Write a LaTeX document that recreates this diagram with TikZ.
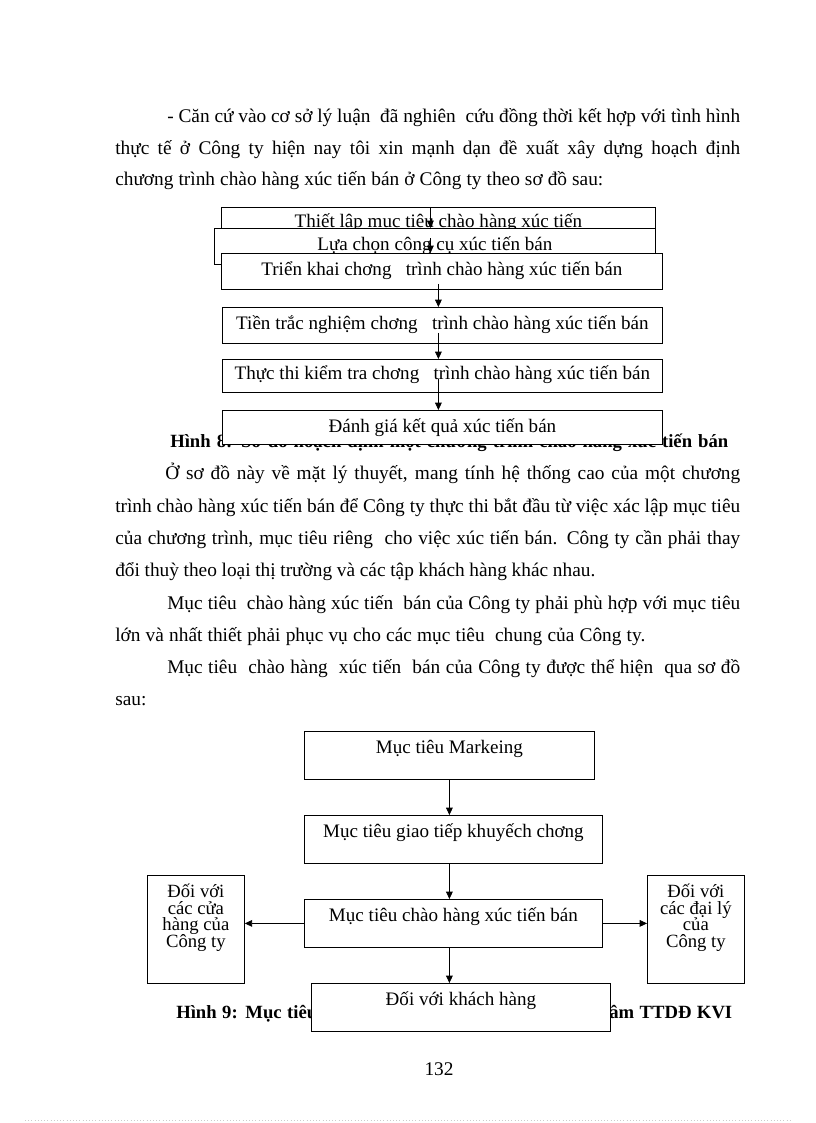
\documentclass[tikz,border=0pt]{standalone}
\usepackage{fontspec}
\setmainfont{Liberation Serif}
\usetikzlibrary{arrows.meta,calc}
\newcommand\myspc{\spaceskip=0.25em plus 0.6em minus 0.12em\relax}
\newcommand\myside{\centering\baselineskip=12.5pt\lineskiplimit=-20pt\relax}
\begin{document}
\begin{tikzpicture}[x=0.75pt,y=-0.75pt,
  txt/.style={anchor=base west, inner sep=0pt, font=\fontsize{14.5}{17}\selectfont\myspc},
  captxt/.style={anchor=base west, inner sep=0pt, font=\fontsize{14}{17}\selectfont\bfseries\myspc},
  box/.style={draw, fill=white, line width=0.6pt, inner sep=0pt, anchor=north west, font=\fontsize{14.3}{16}\selectfont},
  sidebox/.style={draw, fill=white, line width=0.6pt, inner sep=0pt, anchor=north west, font=\fontsize{14}{16}\selectfont},
  arr/.style={line width=0.6pt, -{Triangle[length=5.5pt,width=5pt]}}]
\useasboundingbox (0,0) rectangle (816,1123);
\fill[white] (0,0) rectangle (816,1123);

% paragraph 1
\node[txt] (l1) at (167,123) {\makebox[429.75pt][s]{- Căn cứ vào cơ sở lý luận \ đã nghiên \ cứu đồng thời kết hợp với tình hình}};
\node[txt] (l2) at (115,155) {\makebox[468.75pt][s]{thực tế ở Công ty hiện nay tôi xin mạnh dạn đề xuất xây dựng hoạch định}};
\node[txt] (l3) at (115,186) {\makebox[366pt][s]{chương trình chào hàng xúc tiến bán ở Công ty theo sơ đồ sau:}};

% caption 8 (partly hidden)
\node[captxt] (c8) at (170,447) {\makebox[418.5pt][s]{Hình 8: Sơ đồ hoạch định một chương trình chào hàng xúc tiến bán}};

% flowchart 1
\node[box, minimum width=325.5pt, text height=15pt, text depth=22.5pt] (b1) at (221,207) {Thiết lập mục tiêu chào hàng xúc tiến};
\node[box, minimum width=330.75pt, text height=16.5pt, text depth=10.5pt] (b2) at (214,228) {Lựa chọn công cụ xúc tiến bán};
\node[box, minimum width=330.75pt, text height=16.5pt, text depth=10.5pt] (b3) at (221,253) {Triển khai chơng\ \ \ trình chào hàng xúc tiến bán};
\node[box, minimum width=330pt, text height=16.5pt, text depth=10.5pt] (b4) at (222,307) {Tiền trắc nghiệm chơng\ \ \ trình chào hàng xúc tiến bán};
\node[box, minimum width=330pt, text height=15pt, text depth=9.75pt] (b5) at (222,359) {Thực thi kiểm tra chơng\ \ \ trình chào hàng xúc tiến bán};
\node[box, minimum width=330pt, text height=16.5pt, text depth=9pt] (b6) at (222,410) {Đánh giá kết quả xúc tiến bán};

\coordinate (a1) at ($(b1.north)+(-8,0)$);
\coordinate (a2) at ($(b2.north)+(-4.5,10)$);
\coordinate (a3) at ($(b3.south)+(-3.5,-6)$);
\coordinate (a4) at ($(b4.south)+(-4,-11)$);
\coordinate (a5) at ($(b5.south)+(-4,-14)$);
\draw[arr] (a1) -- (a1 |- b2.north);
\draw[arr] (a2) -- (a2 |- b3.north);
\draw[arr] (a3) -- (a3 |- b4.north);
\draw[arr] (a4) -- (a4 |- b5.north);
\draw[arr] (a5) -- (a5 |- b6.north);

% paragraphs 2-4
\node[txt] (l4) at (165,479) {\makebox[431.25pt][s]{Ở sơ đồ này về mặt lý thuyết, mang tính hệ thống cao của một chương}};
\node[txt] (l5) at (115,512) {\makebox[468.75pt][s]{trình chào hàng xúc tiến bán để Công ty thực thi bắt đầu từ việc xác lập mục tiêu}};
\node[txt] (l6) at (115,544) {\makebox[468.75pt][s]{của chương trình, mục tiêu riêng \ cho việc xúc tiến bán. Công ty cần phải thay}};
\node[txt] (l7) at (115,576) {\makebox[360pt][s]{đổi thuỳ theo loại thị trường và các tập khách hàng khác nhau.}};
\node[txt] (l8) at (167,609) {\makebox[429.75pt][s]{Mục tiêu \ chào hàng xúc tiến \ bán của Công ty phải phù hợp với mục tiêu}};
\node[txt] (l9) at (115,641) {\makebox[397.5pt][s]{lớn và nhất thiết phải phục vụ cho các mục tiêu \ chung của Công ty.}};
\node[txt] (l10) at (167,673) {\makebox[429.75pt][s]{Mục tiêu \ chào hàng \ xúc tiến \ bán của Công ty được thể hiện \ qua sơ đồ}};
\node[txt] (l11) at (115,705) {sau:};

% caption 9 (partly hidden)
\node[captxt] (c9) at (176,1018) {\makebox[417pt][s]{Hình 9: Mục tiêu chào hàng xúc tiến bán của Trung tâm TTDĐ KVI}};

% flowchart 2
\node[box, minimum width=217.5pt, text height=16.5pt, text depth=19.5pt] (m1) at (304,731) {Mục tiêu Markeing};
\node[box, minimum width=223.5pt, text height=16.5pt, text depth=19.5pt] (m2) at (304,815) {Mục tiêu giao tiếp khuyếch chơng};
\node[box, minimum width=223.5pt, text height=16.5pt, text depth=19.5pt] (m3) at (304,899) {Mục tiêu chào hàng xúc tiến bán};
\node[box, minimum width=224.25pt, text height=16.5pt, text depth=19.5pt] (m4) at (311,983) {Đối với khách hàng};
\node[sidebox] (lb) at (147,875) {\parbox[c][81pt][t]{72.75pt}{\myside\rule{0pt}{16.5pt}Đối với\\các cửa\\hàng của\\Công ty\par}};
\node[sidebox] (rb) at (647,875) {\parbox[c][81pt][t]{72.75pt}{\myside\rule{0pt}{16.5pt}Đối với\\các đại lý\\của\\Công ty\par}};

\draw[arr] (m1.south) -- (m1.south |- m2.north);
\draw[arr] (m1.south |- m2.south) -- (m1.south |- m3.north);
\draw[arr] (m1.south |- m3.south) -- (m1.south |- m4.north);
\draw[arr] (m3.west) -- (m3.west -| lb.east);
\draw[arr] (m3.east) -- (m3.east -| rb.west);

% page number
\node[txt, anchor=base] (pn) at (439,1075) {132};
\draw[gray!40, dotted] (25,1120) -- (792,1120);
\end{tikzpicture}
\end{document}
